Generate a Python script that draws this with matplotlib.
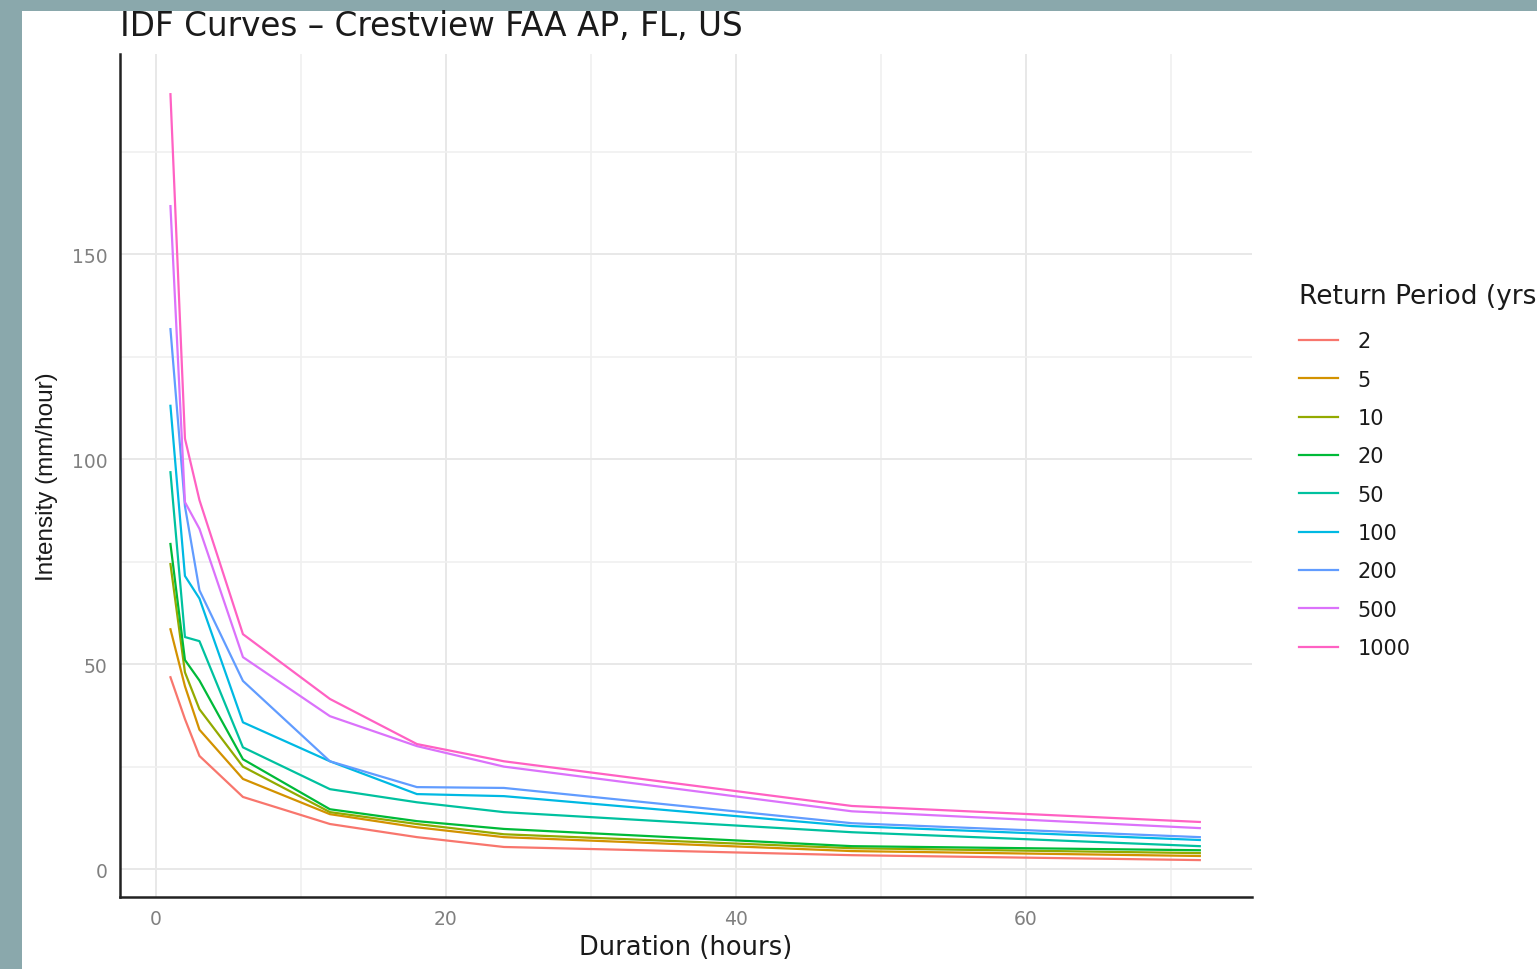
import matplotlib
matplotlib.use("Agg")
import matplotlib.pyplot as plt
from matplotlib.patches import Rectangle
from matplotlib.ticker import MultipleLocator

# Durations (hours) and intensities (mm/hour) per return period
durations = [1, 2, 3, 6, 12, 18, 24, 48, 72]
return_periods = ["2", "5", "10", "20", "50", "100", "200", "500", "1000"]

rp_2 = [46.8, 36.6, 27.6, 17.6, 11.0, 7.8, 5.4, 3.4, 2.2]
rp_5 = [58.5, 44.6, 34.0, 22.0, 13.4, 10.2, 7.8, 4.4, 3.2]
rp_10 = [74.4, 48.0, 39.0, 25.0, 13.9, 11.0, 8.5, 5.1, 3.9]
rp_20 = [79.3, 51.0, 46.0, 26.8, 14.6, 11.7, 9.8, 5.6, 4.6]
rp_50 = [96.8, 56.6, 55.6, 29.7, 19.5, 16.3, 13.9, 9.0, 5.6]
rp_100 = [113.0, 71.5, 66.0, 35.8, 26.3, 18.3, 17.8, 10.5, 7.1]
rp_200 = [131.7, 88.5, 68.0, 45.9, 26.3, 20.0, 19.8, 11.2, 7.8]
rp_500 = [161.7, 89.5, 83.0, 51.7, 37.3, 30.0, 25.0, 14.1, 10.0]
rp_1000 = [189.0, 105.0, 90.0, 57.3, 41.5, 30.5, 26.3, 15.4, 11.5]

series = [rp_2, rp_5, rp_10, rp_20, rp_50, rp_100, rp_200, rp_500, rp_1000]
colors = ["#F8766D", "#D39200", "#93AA00", "#00BA38", "#00C19F",
          "#00B9E3", "#619CFF", "#DB72FB", "#FF61C3"]

W, H = 1537, 970
fig = plt.figure(figsize=(W / 100, H / 100), dpi=100)
fig.patch.set_facecolor("#8AA8AC")
fig.add_artist(Rectangle((22 / W, 0), 1 - 22 / W, 1 - 12 / H,
                         transform=fig.transFigure, facecolor="white",
                         edgecolor="none", zorder=0))

wide = "DejaVu Sans"
narrow = "Liberation Sans"
ax = fig.add_axes([120 / W, 1 - 898 / H, (1252 - 120) / W, (898 - 55) / H])
ax.set_facecolor("none")

for vals, col, lab in zip(series, colors, return_periods):
    ax.plot(durations, vals, color=col, lw=1.6, label=lab, solid_joinstyle="round")

ax.set_xlim(-2.48, 75.6)
ax.set_ylim(-6.8, 198.8)
ax.xaxis.set_major_locator(MultipleLocator(20))
ax.xaxis.set_minor_locator(MultipleLocator(10))
ax.yaxis.set_major_locator(MultipleLocator(50))
ax.yaxis.set_minor_locator(MultipleLocator(25))
ax.grid(which="major", color="#E8E8E8", lw=1.4)
ax.grid(which="minor", color="#F0F0F0", lw=1.2)
ax.set_axisbelow(True)

for side in ("top", "right"):
    ax.spines[side].set_visible(False)
for side in ("left", "bottom"):
    ax.spines[side].set_color("#222222")
    ax.spines[side].set_linewidth(1.8)

ax.tick_params(which="both", length=0)
ax.tick_params(axis="both", labelsize=13.5, labelcolor="#808080", pad=9)
for t in ax.get_xticklabels() + ax.get_yticklabels():
    t.set_family(wide)

ax.set_xlabel("Duration (hours)", fontsize=18.5, family=wide, color="#1a1a1a", labelpad=4)
ax.set_ylabel("Intensity (mm/hour)", fontsize=17.5, family=narrow, color="#1a1a1a", labelpad=10)

fig.text(120 / W, 1 - 27 / H, "IDF Curves – Crestview FAA AP, FL, US",
         fontsize=23.5, family=wide, color="#1a1a1a", ha="left", va="center")

leg = ax.legend(title="Return Period (yrs)", loc="upper left",
                bbox_to_anchor=(1299 / W, 1 - 284 / H), bbox_transform=fig.transFigure,
                frameon=False, fontsize=15, title_fontsize=19,
                handlelength=1.85, handletextpad=0.95, labelspacing=0.88,
                alignment="left", borderaxespad=0, borderpad=0)
for t in leg.get_texts():
    t.set_family(wide)
    t.set_color("#1a1a1a")
leg.get_title().set_family(wide)
leg.get_title().set_color("#1a1a1a")
leg._legend_box.sep = 16

fig.savefig("out.png", dpi=100, facecolor=fig.get_facecolor())
